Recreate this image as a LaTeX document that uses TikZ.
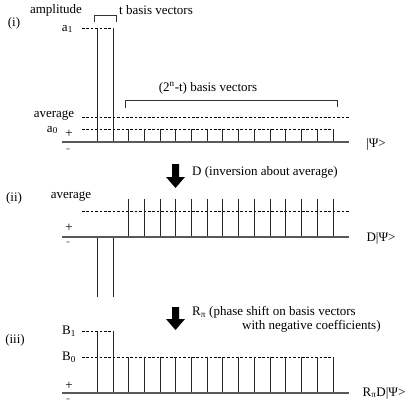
\documentclass[tikz,border=0pt]{standalone}
\usepackage{fontspec}
\setmainfont{Liberation Serif}
\begin{document}
\begin{tikzpicture}[x=1pt,y=-1pt,
  lbl/.style={inner sep=0pt,font=\fontsize{13}{15}\selectfont},
  axisline/.style={draw=black!65,line width=1.3pt},
  bar/.style={draw=black!85,line width=0.9pt},
  dashline/.style={draw=black,line width=0.7pt,dash pattern=on 2.6pt off 1.8pt},
  brk/.style={draw=black!80,line width=0.9pt},
  bigarrow/.style={fill=black}]
\useasboundingbox (0,0) rectangle (411,410);
\def\xa{97}\def\xb{113}
% ---------------- panel (i)
\node[lbl] (amp) at (56,10) {amplitude};
\node[lbl] (pi) at (14,23) {(i)};
\node[lbl,anchor=east] (aone) at (73,29) {a\textsubscript{1}};
\node[lbl,anchor=west] (tbv) at (119,10) {t basis vectors};
\draw[brk] (94,22) -- (94,15) -- (116,15) -- (116,22);
\node[lbl] (nbv) at (208,88) {(2\textsuperscript{n}-t) basis vectors};
\draw[brk] (125,108) -- (125,100) -- (337,100) -- (337,107);
\node[lbl] (avg1) at (54,116) {average};
\node[lbl,anchor=east] (azero) at (58,130) {a\textsubscript{0}};
\node[lbl] (plus1) at (69,134) {+};
\node[lbl,text=black!55] (minus1) at (68,151) {-};
\node[lbl] (psi1) at (376,144) {|Ψ>};
\draw[dashline] (82,28) -- (\xb,28);
\draw[dashline] (82,117) -- (349,117);
\draw[dashline] (82,129) -- (333,129);
\draw[bar] (\xa,142) -- (\xa,28);
\draw[bar] (\xb,142) -- (\xb,28);
\foreach \i in {0,...,13} \draw[bar] ({128.5+\i*15.73},142) -- ({128.5+\i*15.73},129);
\draw[axisline] (62,142) -- (349,142);
% ---------------- arrow D
\fill[bigarrow] (172,164) -- (179,164) -- (179,177) -- (185,177) -- (175.5,188) -- (166,177) -- (172,177) -- cycle;
\node[lbl,anchor=west] (dtxt) at (192,172) {D (inversion about average)};
% ---------------- panel (ii)
\node[lbl] (pii) at (14,198) {(ii)};
\node[lbl] (avg2) at (71,197) {average};
\node[lbl] (plus2) at (69,228) {+};
\node[lbl,text=black!55] (minus2) at (68,244) {-};
\node[lbl] (psi2) at (381,238) {D|Ψ>};
\draw[dashline] (82,211) -- (349,211);
\foreach \i in {0,...,13} \draw[bar] ({128.5+\i*15.73},237) -- ({128.5+\i*15.73},199);
\draw[bar] (\xa,237) -- (\xa,297);
\draw[bar] (\xb,237) -- (\xb,297);
\draw[axisline] (62,237) -- (349,237);
% ---------------- arrow R
\fill[bigarrow] (172,307) -- (179,307) -- (179,319) -- (185,319) -- (175.5,330) -- (166,319) -- (172,319) -- cycle;
\node[lbl,anchor=west] (rtxt) at (192,312) {R\textsubscript{π} (phase shift on basis vectors};
\node[lbl,anchor=west] (rtxt2) at (242,326) {with negative coefficients)};
% ---------------- panel (iii)
\node[lbl] (piii) at (15,340) {(iii)};
\node[lbl,anchor=east] (bone) at (76,331) {B\textsubscript{1}};
\node[lbl,anchor=east] (bzero) at (76,357) {B\textsubscript{0}};
\node[lbl] (plus3) at (69,386) {+};
\node[lbl,text=black!55] (minus3) at (68,401) {-};
\node[lbl] (psi3) at (384,393) {R\textsubscript{π}D|Ψ>};
\draw[dashline] (82,331) -- (\xb,331);
\draw[dashline] (82,357) -- (333,357);
\draw[bar] (\xa,393) -- (\xa,331);
\draw[bar] (\xb,393) -- (\xb,331);
\foreach \i in {0,...,13} \draw[bar] ({128.5+\i*15.73},393) -- ({128.5+\i*15.73},357);
\draw[axisline] (62,393) -- (349,393);
\end{tikzpicture}
\end{document}
